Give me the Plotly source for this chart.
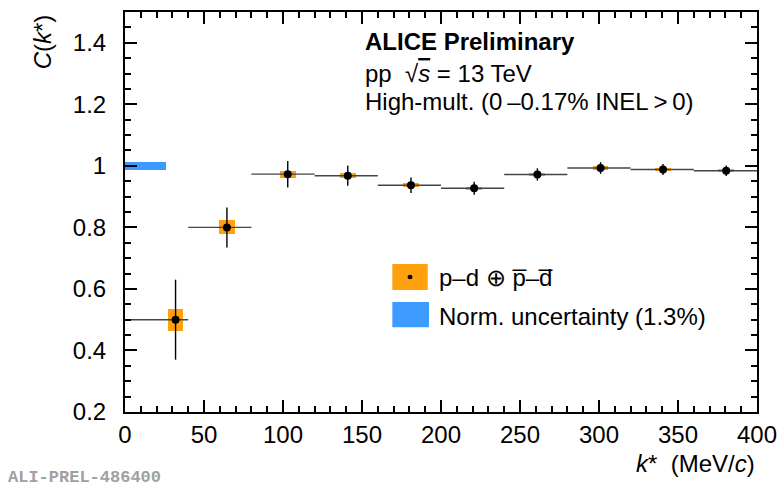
import plotly.graph_objects as go

# ---- data ----
k_mean = [32, 64.5, 103, 141, 181, 221, 261, 301, 340.5, 380.5]
bin_lo = [0, 40, 80, 120, 160, 200, 240, 280, 320, 360]
bin_hi = [40, 80, 120, 160, 200, 240, 280, 320, 360, 400]
C_val = [0.50, 0.80, 0.973, 0.968, 0.937, 0.927, 0.972, 0.993, 0.988, 0.984]
stat_err = [0.13, 0.065, 0.043, 0.033, 0.025, 0.021, 0.020, 0.019, 0.018, 0.017]
syst_err = [0.036, 0.023, 0.011, 0.008, 0.006, 0.005, 0.006, 0.005, 0.005, 0.005]
syst_width = 10  # MeV/c
norm_unc = 0.013
norm_kmax = 26
x_ticks = [0, 50, 100, 150, 200, 250, 300, 350, 400]
y_ticks = [0.2, 0.4, 0.6, 0.8, 1.0, 1.2, 1.4]
y_ticklabels = ["0.2", "0.4", "0.6", "0.8", "1", "1.2", "1.4"]

orange = "#FFA00F"
blue = "#3D9BFF"
font_family = "Liberation Sans, Arial, sans-serif"

fig = go.Figure()

# systematic boxes
fig.add_trace(go.Bar(
    x=k_mean, y=[2 * s for s in syst_err], base=[c - s for c, s in zip(C_val, syst_err)],
    width=[syst_width] * len(k_mean), marker=dict(color=orange, line=dict(width=0)),
    showlegend=False, hoverinfo="skip"))

# normalisation band
fig.add_trace(go.Bar(
    x=[norm_kmax / 2], y=[2 * norm_unc], base=[1 - norm_unc], width=[norm_kmax],
    marker=dict(color=blue, line=dict(width=0)), showlegend=False, hoverinfo="skip"))

# points with stat errors and bin widths
fig.add_trace(go.Scatter(
    x=k_mean, y=C_val, mode="markers",
    marker=dict(color="black", size=8),
    error_y=dict(type="data", array=stat_err, color="black", thickness=1.4, width=0),
    error_x=dict(type="data", symmetric=False,
                 array=[h - k for h, k in zip(bin_hi, k_mean)],
                 arrayminus=[k - l for l, k in zip(bin_lo, k_mean)],
                 color="#444444", thickness=1.4, width=0),
    showlegend=False))

tickstyle = dict(ticks="inside", ticklen=12, tickwidth=2, tickcolor="black",
                 showgrid=False, zeroline=False, mirror="ticks",
                 showline=True, linecolor="black", linewidth=2)
tickfont = dict(family=font_family, size=24, color="black")
xminor = dict(dtick=10, tick0=0, ticks="inside", ticklen=6, tickwidth=2, tickcolor="black")
yminor = dict(dtick=0.05, tick0=0.2, ticks="inside", ticklen=6, tickwidth=2, tickcolor="black")

fig.update_layout(
    xaxis=dict(range=[0, 400], dtick=50, tick0=0, minor=xminor,
               tickfont=tickfont, ticklabeloverflow="allow", **tickstyle),
    yaxis=dict(range=[0.2, 1.5], tickmode="array", tickvals=y_ticks,
               ticktext=[t + "\u2002" for t in y_ticklabels], minor=yminor,
               tickfont=tickfont, ticklabeloverflow="allow", **tickstyle),
)

annotations = [
    dict(text="<i>C</i>(<i>k</i>*)", x=-0.13, y=1.0, xref="paper", yref="paper",
         xanchor="center", yanchor="top", textangle=-90, showarrow=False,
         font=dict(family=font_family, size=24, color="black")),
    dict(text="<i>k</i>*  (MeV/<i>c</i>)", x=1.0, y=-0.1275, xref="paper", yref="paper",
         xanchor="right", yanchor="middle", showarrow=False,
         font=dict(family=font_family, size=24, color="black")),
    dict(text="<b>ALICE Preliminary</b>", x=0.377, y=0.925, xref="paper", yref="paper",
         xanchor="left", yanchor="middle", showarrow=False,
         font=dict(family=font_family, size=24, color="black")),
    dict(text="pp  √<span style='text-decoration:overline'><i>s</i></span> = 13 TeV", x=0.377, y=0.847, xref="paper", yref="paper",
         xanchor="left", yanchor="middle", showarrow=False,
         font=dict(family=font_family, size=24, color="black")),
    dict(text="High-mult. (0\u2009–0.17% INEL\u2009>\u20090)", x=0.377, y=0.777, xref="paper", yref="paper",
         xanchor="left", yanchor="middle", showarrow=False,
         font=dict(family=font_family, size=24, color="black")),
    dict(text="p–d ⊕ p\u0305–d\u0305", x=0.494, y=0.337, xref="paper", yref="paper",
         xanchor="left", yanchor="middle", showarrow=False,
         font=dict(family=font_family, size=24, color="black")),
    dict(text="Norm. uncertainty (1.3%)", x=0.494, y=0.240, xref="paper", yref="paper",
         xanchor="left", yanchor="middle", showarrow=False,
         font=dict(family=font_family, size=24, color="black")),
    dict(text="<b>ALI-PREL-486400</b>", x=-0.188, y=-0.163, xref="paper", yref="paper",
         xanchor="left", yanchor="middle", showarrow=False,
         font=dict(family="Liberation Mono, Courier New, monospace", size=17, color="#A0A0A0")),
]

shapes = [
    # legend boxes
    dict(type="rect", xref="paper", yref="paper", x0=0.423, x1=0.479, y0=0.305, y1=0.370,
         fillcolor=orange, line=dict(width=0), layer="above"),
    dict(type="circle", xref="paper", yref="paper", x0=0.447, x1=0.455, y0=0.332, y1=0.343,
         fillcolor="black", line=dict(width=0), layer="above"),
    dict(type="rect", xref="paper", yref="paper", x0=0.423, x1=0.481, y0=0.212, y1=0.275,
         fillcolor=blue, line=dict(width=0), layer="above"),
]

fig.update_layout(
    width=777, height=486,
    margin=dict(l=125, r=20, t=12, b=74, autoexpand=False),
    paper_bgcolor="white", plot_bgcolor="white",
    barmode="overlay", bargap=0,
    showlegend=False,
    annotations=annotations, shapes=shapes,
    font=dict(family=font_family, color="black"),
)

fig.write_html("out.html")
